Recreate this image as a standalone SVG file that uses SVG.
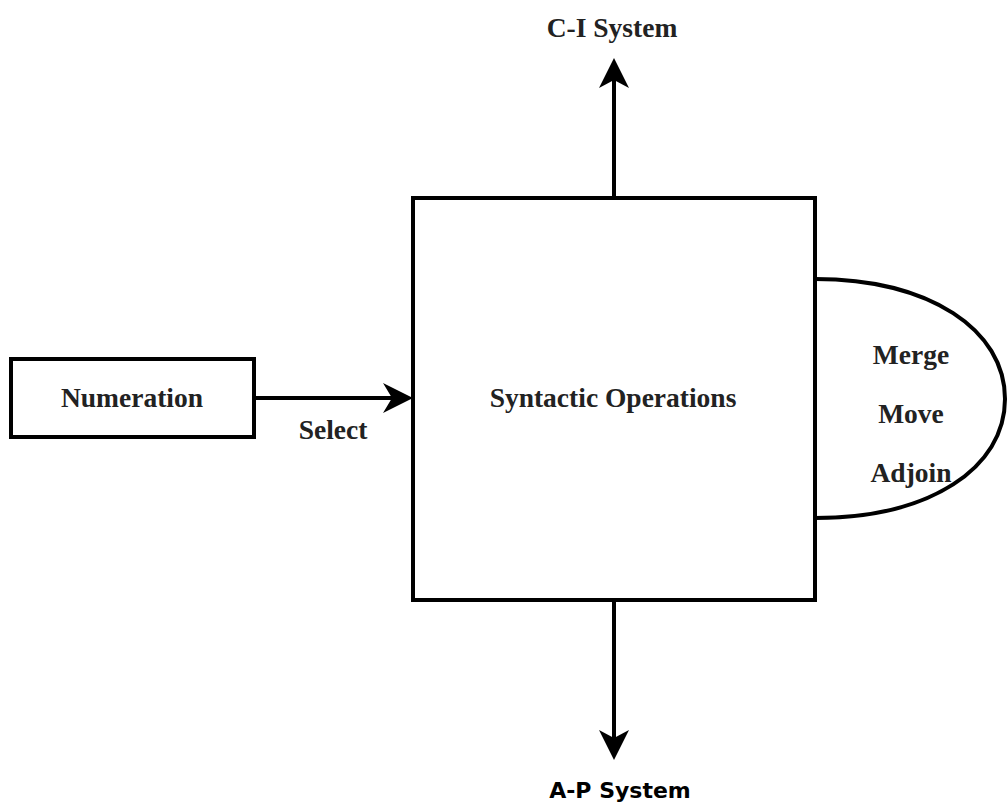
<svg xmlns="http://www.w3.org/2000/svg" width="1008" height="805" viewBox="0 0 1008 805">
<style>
.s{fill:#fff;stroke:#000;stroke-width:4}
.l{fill:none;stroke:#000;stroke-width:4}
.t{font-family:"Liberation Serif","Times New Roman",serif;font-weight:bold;font-size:27.5px;fill:#222;text-anchor:middle;dominant-baseline:central}
.v{font-family:"DejaVu Sans",Verdana,sans-serif;font-weight:bold;font-size:22px;fill:#000;text-anchor:middle;dominant-baseline:central}
</style>
<rect width="1008" height="805" fill="#fff"/>
<g id="ops-loop">
<path class="l" d="M815 279 C930 279 1005 330 1005 399 C1005 468 930 518 815 518"/>
<text class="t" x="911" y="354">Merge</text>
<text class="t" x="911" y="413">Move</text>
<text class="t" x="911" y="472">Adjoin</text>
</g>
<g id="syntactic">
<rect class="s" x="413" y="198" width="402" height="402"/>
<text class="t" x="613" y="397">Syntactic Operations</text>
</g>
<g id="numeration">
<rect class="s" x="11" y="359" width="243" height="78"/>
<text class="t" x="132" y="397">Numeration</text>
</g>
<g id="connectors">
<line class="l" x1="254" y1="398" x2="395" y2="398"/>
<polygon points="413,398 383,383 392,398 383,413" fill="#000"/>
<line class="l" x1="614" y1="198" x2="614" y2="76"/>
<polygon points="614,58 599,88 614,80 629,88" fill="#000"/>
<line class="l" x1="614" y1="600" x2="614" y2="742"/>
<polygon points="614,760 599,730 614,738 629,730" fill="#000"/>
</g>
<text class="t" x="333" y="429">Select</text>
<text class="t" x="612" y="27">C-I System</text>
<text class="v" x="620" y="790">A-P System</text>
</svg>
